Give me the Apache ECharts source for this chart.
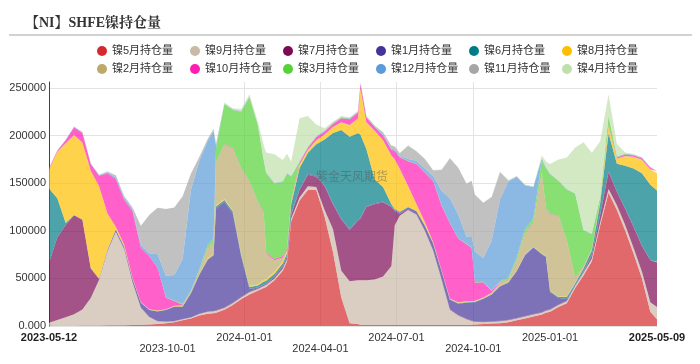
<!DOCTYPE html>
<html><head><meta charset="utf-8">
<script src="https://cdn.jsdelivr.net/npm/echarts@6/dist/echarts.min.js"></script>
<style>html,body{margin:0;padding:0;background:#fff}#c{width:700px;height:364px}</style>
</head><body><div id="c"></div>
<script>
// sample dates
const dates = [
'2023-05-12','2023-05-22','2023-06-01','2023-06-11','2023-06-21','2023-07-01','2023-07-11','2023-07-21','2023-07-31','2023-08-10',
'2023-08-20','2023-08-30','2023-09-09','2023-09-19','2023-09-29','2023-10-09','2023-10-19','2023-10-29','2023-11-08','2023-11-18',
'2023-11-25',
'2023-11-28','2023-12-08','2023-12-18','2023-12-28','2024-01-07','2024-01-17',
'2024-01-24',
'2024-01-27','2024-02-06','2024-02-16',
'2024-02-21',
'2024-02-26','2024-03-07','2024-03-17','2024-03-27','2024-04-06','2024-04-16','2024-04-26','2024-05-06','2024-05-16',
'2024-05-19',
'2024-05-26','2024-06-05','2024-06-15','2024-06-25',
'2024-06-29',
'2024-07-05','2024-07-15','2024-07-25','2024-08-04','2024-08-14','2024-08-24','2024-09-03','2024-09-13','2024-09-23',
'2024-09-29',
'2024-10-03','2024-10-13','2024-10-23','2024-11-02','2024-11-12','2024-11-22','2024-12-02','2024-12-12','2024-12-22',
'2024-12-27',
'2025-01-01','2025-01-11','2025-01-21','2025-01-31','2025-02-10','2025-02-20','2025-03-02','2025-03-12','2025-03-22','2025-04-01',
'2025-04-11','2025-04-21','2025-05-01','2025-05-09'];

// open interest per contract month, in thousands of lots (same order as dates)
const ni5  = [.5,.2,.2,.3,.4,.5,.6,.7,.8,.9, 1,1.2,1.5,2,3,4,6,8,11,13, 13.5, 14,17,22,28,33,37, 40, 41,48,58, 68, 110,132,143,143,115,78,30,3,2, 1, 1,1,1,1, 1, 1,1,1,1,1,1,1,1,1, 1.2, 1.5,2,2.5,3,4,6,8,10,12, 14, 15,20,24,40,53,68,106,140,122,100,76,50,15,7];
const ni9  = [3,6,9,12,17,29,48,78,98,80, 45,18,8,3,1.5,1,1,1,1.5,2, 2, 2,2,2,2,2.5,2, 2, 2,2,2.5, 2.5, 3,3,4,3,7,24,28,44,46, 47, 47,48,51,62, 105, 115,121,116,99,78,48,16,10,6, 4, 3,2,2,2,2,2,2,2,2, 2, 2,2,2,2,3,3,3,4,5,6,6,7,10,13];
const ni7  = [63,87,97,104,94,31,.5,.3,.3,.3, .3,.3,.3,.3,.3,.3,.3,.3,.3,.3, .3, .5,.5,.5,.5,.5,1, 1, 1,1.5,2, 2.5, 4,8,12,11,25,26,54,54,63, 65, 77,79,78,62, 15, 2,.5,.5,.5,.5,.5,.5,.5,.5, .5, .5,.5,.5,.5,.5,.5,.5,.5,.5, .5, .5,.5,.5,.5,1,3,8,18,14,17,22,27,44,47];
const ni1  = [0,0,0,.1,.2,.3,.5,1,2,2, 3,5,7,10,12,15,13,25,41,54, 58, 107,111,94,43,3,.5, .5, .5,.5,.5, .5, 1,1,1,1,1,1,1,1,1, 1, 1,1,1,1, 1, 1,2,3,5,7,8,10,12,17, 19, 20,24,28,36,39,49,64,70,61, 56, 18,7,2,.5,.5,.5,.5,.5,.5,.5,.5,.5,.5,.5];
const ni6  = [78,41,2,.3,.3,.3,.3,.3,.3,.3, .3,.3,.3,.3,.3,.3,.3,.3,.3,1, 1, 2,2,2,2,2,2, 3, 3,3,3, 3, 10,22,22,33,48,74,93,97,91, 87, 60,25,15,2, 1, 1,.5,.5,.5,.5,.5,.5,.5,.5, .5, .5,.5,.5,.5,.5,.5,.5,.5,.5, .5, 1,1,2,2,3,5,12,40,29,45,61,76,79,75];
const ni8  = [20,49,84,84,81,102,97,38,3,2, 1,.3,.3,.3,.3,.3,.3,.3,.3,1, 1, 1,1,1,1,1,1, 2, 2,2,2, 2, 2,3,3,4,5,6,8,12,15, 48, 28,51,49,51, 52, 45,22,7,3,1,.5,.5,.5,.5, .5, .5,.5,.5,.5,.5,.5,.5,.5,.5, .5, .5,.5,.5,.5,.5,1,2,7,5,10,12,14,16,18];
const ni2  = [0,0,0,0,0,0,0,0,0,.1, .1,.2,.2,.3,.3,.5,1,1,3,10, 12, 45,57,65,89,110,87, 70, 27,12,4, 2, 1,.5,.3,.3,.3,.3,.3,.3,.3, .3, .3,.3,.3,.3, .3, .3,.3,.3,.3,.3,.3,.5,.5,.5, .5, .5,.5,1,3,2,10,22,25,85, 50, 80,85,58,5,1,.5,.5,.3,.3,.3,.3,.3,.3,.3];
const ni10 = [1,1,3,8,10,7,11,42,50,47, 70,57,56,45,12,5,.5,.3,.3,.3, .3, .5,.5,.5,.5,.5,.5, 1, 1,1.5,1.5, 1.5, 1,2,2,3,3,3,4,6,6, 5, 5,4,5,6, 9, 12,26,42,52,64,68,79,67,60, 56, 19,16,2,.5,.5,.5,.5,.5,.5, .5, .5,.5,.5,.5,.5,.5,.5,1,1,1.5,1.5,1.5,1.5,2];
const ni3  = [0,0,0,0,0,0,0,0,0,0, 0,0,0,.1,.2,.3,1,1,2,3, 4, 15,42,40,59,88,80, 55, 83,79,78, 78, 25,1,.5,.5,.5,.5,.5,.5,.5, .5, .5,.3,.3,.3, .3, .3,.3,.3,.3,.3,.3,.3,.3,.5, .5, .5,.5,.5,1,2,3,4,4,12, 42, 42,36,54,88,38,15,3,10,1,.5,.3,.3,.3,.3];
const ni12 = [.5,.3,.3,.5,.5,.5,.5,1,2,2, 2,3,3,14,23,27,47,106,114,110, 113, 3,.5,.5,.5,.5,.5, .5, .5,.5,.5, .5, .5,.5,.5,.5,.5,.5,.5,.5,.5, .5, .5,.5,1,1, 1, 1,2,3,4,5,15,26,25,7, 12, 32,25,52,86,101,85,46,33,2, .5, .5,.3,.3,.3,.3,.3,.3,.3,.3,.3,.3,.3,.3,.3];
const ni11 = [0,.2,.3,.5,.5,.5,.5,1,2,2, 2,20,40,49,70,71,66,17,4,2, 2, 1,.5,.5,.5,.5,.5, .5, .5,.5,.5, .5, .5,.5,.5,.5,.5,.5,.5,.5,.5, .5, .5,.5,2,3, 3, 3,14,10,10,6,22,42,49,56, 58, 60,58,46,29,1,.3,.3,.3,.3, .3, .3,.3,.3,.3,.3,.3,.3,.3,.3,.3,.3,.3,.3,.3];
const ni4  = [0,0,0,0,0,0,0,0,0,0, 0,0,0,0,0,0,0,.1,.2,.3, .3, .5,1,1,2,2,3, 15, 21,30,22, 20, 15,45,32,12,2,1,1,.5,.5, .5, .5,.3,.3,.3, .3, .3,.3,.3,.3,.3,.3,.3,.3,.3, .3, .3,.3,.3,.5,.5,.5,.5,.5,3, 6, 10,22,33,48,92,85,58,22,13,1,.5,.3,.3,.3];

const seriesNames = ['镍5月持仓量','镍9月持仓量','镍7月持仓量','镍1月持仓量','镍6月持仓量','镍8月持仓量','镍2月持仓量','镍10月持仓量','镍3月持仓量','镍12月持仓量','镍11月持仓量','镍4月持仓量'];
const seriesValues = [ni5, ni9, ni7, ni1, ni6, ni8, ni2, ni10, ni3, ni12, ni11, ni4];
const seriesColors = ['#d42a2e','#c9b9a6','#7d0a55','#46349a','#007c86','#ffbf00','#bca96c','#ff1cb2','#55d236','#5a9bd8','#a6a6a6','#bfe0ab'];

const xLabelDates = ['2023-05-12','2023-10-01','2024-01-01','2024-04-01','2024-07-01','2024-10-01','2025-01-01','2025-05-09'];
const xGridDates = ['2023-10-01','2024-01-01','2024-04-01','2024-07-01','2024-10-01','2025-01-01'];
const lowerRow = ['2023-10-01','2024-04-01','2024-10-01'];
const boldLabels = ['2023-05-12','2025-05-09'];

const pd = s => echarts.number.parseDate(s).getTime();
const fmt = v => echarts.time.format(v, '{yyyy}-{MM}-{dd}', false);
const chart = echarts.init(document.getElementById('c'), null, {renderer:'canvas'});
const FONT = "'Liberation Sans','Noto Sans CJK SC',sans-serif";

// data items are [value, time]; encode maps dim 1 to x so the stack runs on the value
const series = seriesNames.map((n, k) => ({
  name: n, type: 'line', stack: 'oi', symbol: 'none', showSymbol: false,
  color: seriesColors[k],
  encode: {x: 1, y: 0},
  lineStyle: {width: 0}, areaStyle: {opacity: 0.7, color: seriesColors[k]},
  emphasis: {disabled: true},
  data: dates.map((d, i) => [seriesValues[k][i] * 1000, pd(d)])
}));

chart.setOption({
  animation: false,
  textStyle: {fontFamily: FONT},
  title: {text: '【NI】SHFE镍持仓量', left: 20, top: 11,
    textStyle: {fontSize: 14, fontWeight: 'bold', color: '#333', fontFamily: "'Liberation Serif','Noto Serif CJK SC','Noto Sans CJK SC',serif"}},
  legend: {left: 92, top: 38, width: 575, itemWidth: 10, itemHeight: 10, itemGap: 2, icon: 'circle',
    textStyle: {fontSize: 11, width: 76, lineHeight: 16, color: '#333', fontFamily: FONT}, data: seriesNames},
  grid: {left: 49, right: 43, top: 82, bottom: 38},
  xAxis: {type: 'value', min: pd('2023-05-12'), max: pd('2025-05-09'),
    axisLine: {show: false}, axisTick: {show: false, customValues: xGridDates.map(pd)},
    splitLine: {show: true, showMinLine: false, showMaxLine: false, lineStyle: {color: '#e3e3e3', width: 1}},
    axisLabel: {customValues: xLabelDates.map(pd), margin: 6, fontSize: 11, lineHeight: 11, color: '#333',
      hideOverlap: false,
      formatter: v => {
        const s = fmt(v);
        if (boldLabels.includes(s)) return '{b|' + s + '}';
        if (lowerRow.includes(s)) return '\n' + s;
        return s;
      },
      rich: {b: {fontWeight: 'bold', fontSize: 11, lineHeight: 11, color: '#222'}}}},
  yAxis: {type: 'value', min: 0, max: 256500, interval: 50000,
    axisLine: {show: true, lineStyle: {color: '#444'}}, axisTick: {show: false},
    axisLabel: {fontSize: 11, color: '#333', margin: 3, showMaxLabel: false, formatter: v => v === 0 ? '0.000' : String(v)},
    splitLine: {show: true, showMaxLine: false, lineStyle: {color: '#e3e3e3'}}},
  graphic: [
    {type: 'line', shape: {x1: 9, y1: 35, x2: 692, y2: 35}, style: {stroke: '#d2d2d2', lineWidth: 2}},
    {type: 'text', left: 316, top: 172, z: 100, silent: true,
      style: {text: '紫金天风期货', fontSize: 12, fill: 'rgba(80,80,80,0.45)', fontFamily: FONT}}
  ],
  series: series
});
</script></body></html>
